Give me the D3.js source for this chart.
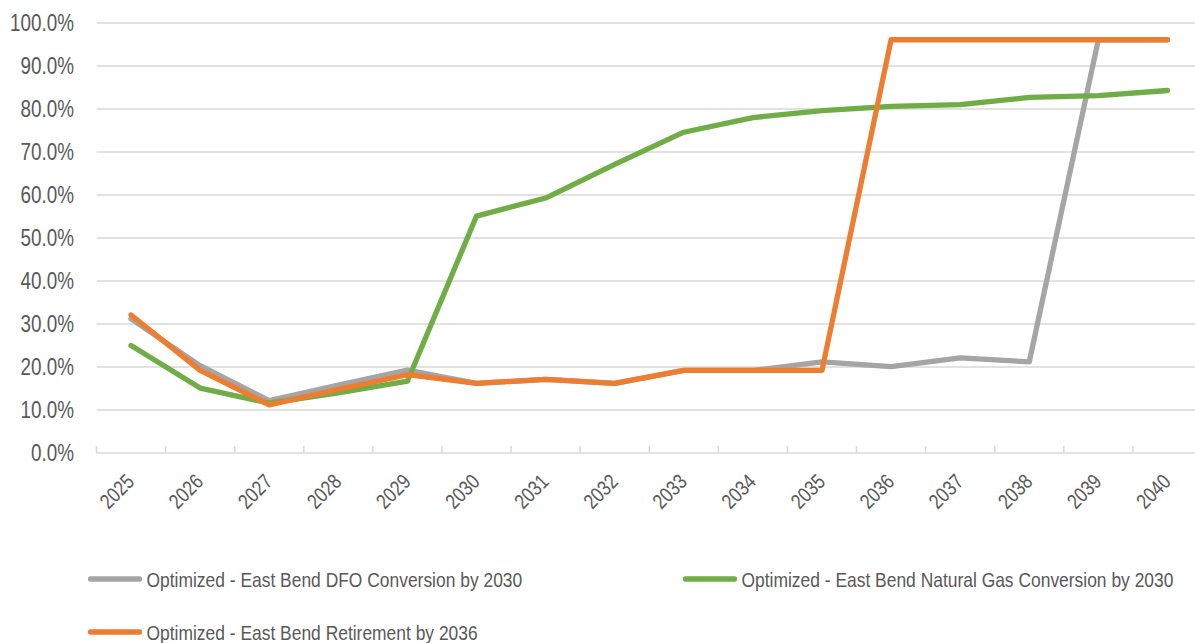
<!DOCTYPE html>
<html>
<head>
<meta charset="utf-8">
<script src="https://cdn.jsdelivr.net/npm/d3@7"></script>
<style>
  body { margin: 0; background: #fff; }
  svg text { font-family: "Liberation Sans", Arial, sans-serif; fill: #595959; }
</style>
</head>
<body>
<svg width="1195" height="643"></svg>
<script>
var years = ['2025', '2026', '2027', '2028', '2029', '2030', '2031', '2032', '2033', '2034', '2035', '2036', '2037', '2038', '2039', '2040'];
var dfoValues = [31.2, 20.3, 12.2, 15.8, 19.3, 16.2, 17.1, 16.2, 19.2, 19.2, 21.2, 20.1, 22.1, 21.2, 96.1, 96.1];
var gasValues = [25, 15.1, 11.6, 14, 16.7, 55.1, 59.3, 67.1, 74.6, 78, 79.6, 80.6, 81, 82.7, 83.1, 84.3];
var retireValues = [32.1, 19.2, 11.2, 14.8, 18.2, 16.2, 17.1, 16.2, 19.2, 19.2, 19.2, 96.1, 96.1, 96.1, 96.1, 96.1];
var yTicks = [0, 10, 20, 30, 40, 50, 60, 70, 80, 90, 100];

var seriesNames = ['Optimized - East Bend DFO Conversion by 2030', 'Optimized - East Bend Natural Gas Conversion by 2030', 'Optimized - East Bend Retirement by 2036'];
var seriesColors = ['#a5a5a5', '#70ad47', '#ed7d31'];
var allSeries = [dfoValues, gasValues, retireValues];

var svg = d3.select('svg');
var plotLeft = 96.5, plotRight = 1202, plotTop = 23, plotBottom = 453;
// text is squeezed sideways to look like a narrow face
var narrow = 0.82;

var xScale = d3.scaleBand().domain(years).range([plotLeft, plotRight]);
var yScale = d3.scaleLinear().domain([0, 100]).range([plotBottom, plotTop]);

// gridlines
svg.append('g').selectAll('line').data(yTicks.slice(1)).enter().append('line')
  .attr('x1', plotLeft).attr('x2', plotRight)
  .attr('y1', function(d) { return yScale(d); })
  .attr('y2', function(d) { return yScale(d); })
  .attr('stroke', '#d9d9d9').attr('stroke-width', 1.5);

// y labels
svg.append('g').selectAll('text').data(yTicks).enter().append('text')
  .attr('text-anchor', 'end')
  .style('font-size', '23px')
  .attr('transform', function(d) {
    return 'translate(74,' + (yScale(d) + 8.3) + ') scale(' + narrow + ',1)';
  })
  .text(function(d) { return d.toFixed(1) + '%'; });

// x axis line + ticks (ticks sit above the line)
svg.append('line')
  .attr('x1', plotLeft).attr('x2', plotRight).attr('y1', plotBottom).attr('y2', plotBottom)
  .attr('stroke', '#d9d9d9').attr('stroke-width', 1.5);
var tickXs = years.map(function(d) { return xScale(d); }).concat([plotRight]);
svg.append('g').selectAll('line').data(tickXs).enter().append('line')
  .attr('x1', function(d) { return d; }).attr('x2', function(d) { return d; })
  .attr('y1', plotBottom).attr('y2', plotBottom - 7)
  .attr('stroke', '#d9d9d9').attr('stroke-width', 1.5);

// x labels rotated
svg.append('g').selectAll('text').data(years).enter().append('text')
  .attr('text-anchor', 'end')
  .style('font-size', '21px')
  .attr('transform', function(d) {
    var x = xScale(d) + xScale.bandwidth() / 2 + 4.5;
    return 'translate(' + x + ',483) rotate(-45) scale(' + narrow + ',1)';
  })
  .text(function(d) { return d; });

// lines
var line = d3.line()
  .x(function(d, i) { return xScale(years[i]) + xScale.bandwidth() / 2; })
  .y(function(d) { return yScale(d); });

allSeries.forEach(function(values, i) {
  svg.append('path')
    .datum(values)
    .attr('d', line)
    .attr('fill', 'none')
    .attr('stroke', seriesColors[i])
    .attr('stroke-width', 5.3)
    .attr('stroke-linejoin', 'round')
    .attr('stroke-linecap', 'round');
});

// legend
var legendPos = [[90.5, 579], [685.5, 579], [90.5, 632]];
seriesNames.forEach(function(name, i) {
  var g = svg.append('g').attr('transform', 'translate(' + legendPos[i][0] + ',' + legendPos[i][1] + ')');
  g.append('line')
    .attr('x1', 0).attr('x2', 49).attr('y1', 0).attr('y2', 0)
    .attr('stroke', seriesColors[i]).attr('stroke-width', 5.3).attr('stroke-linecap', 'round');
  g.append('text')
    .attr('transform', 'translate(56,7.6) scale(0.826,1)')
    .style('font-size', '21.1px')
    .text(name);
});
</script>
</body>
</html>
